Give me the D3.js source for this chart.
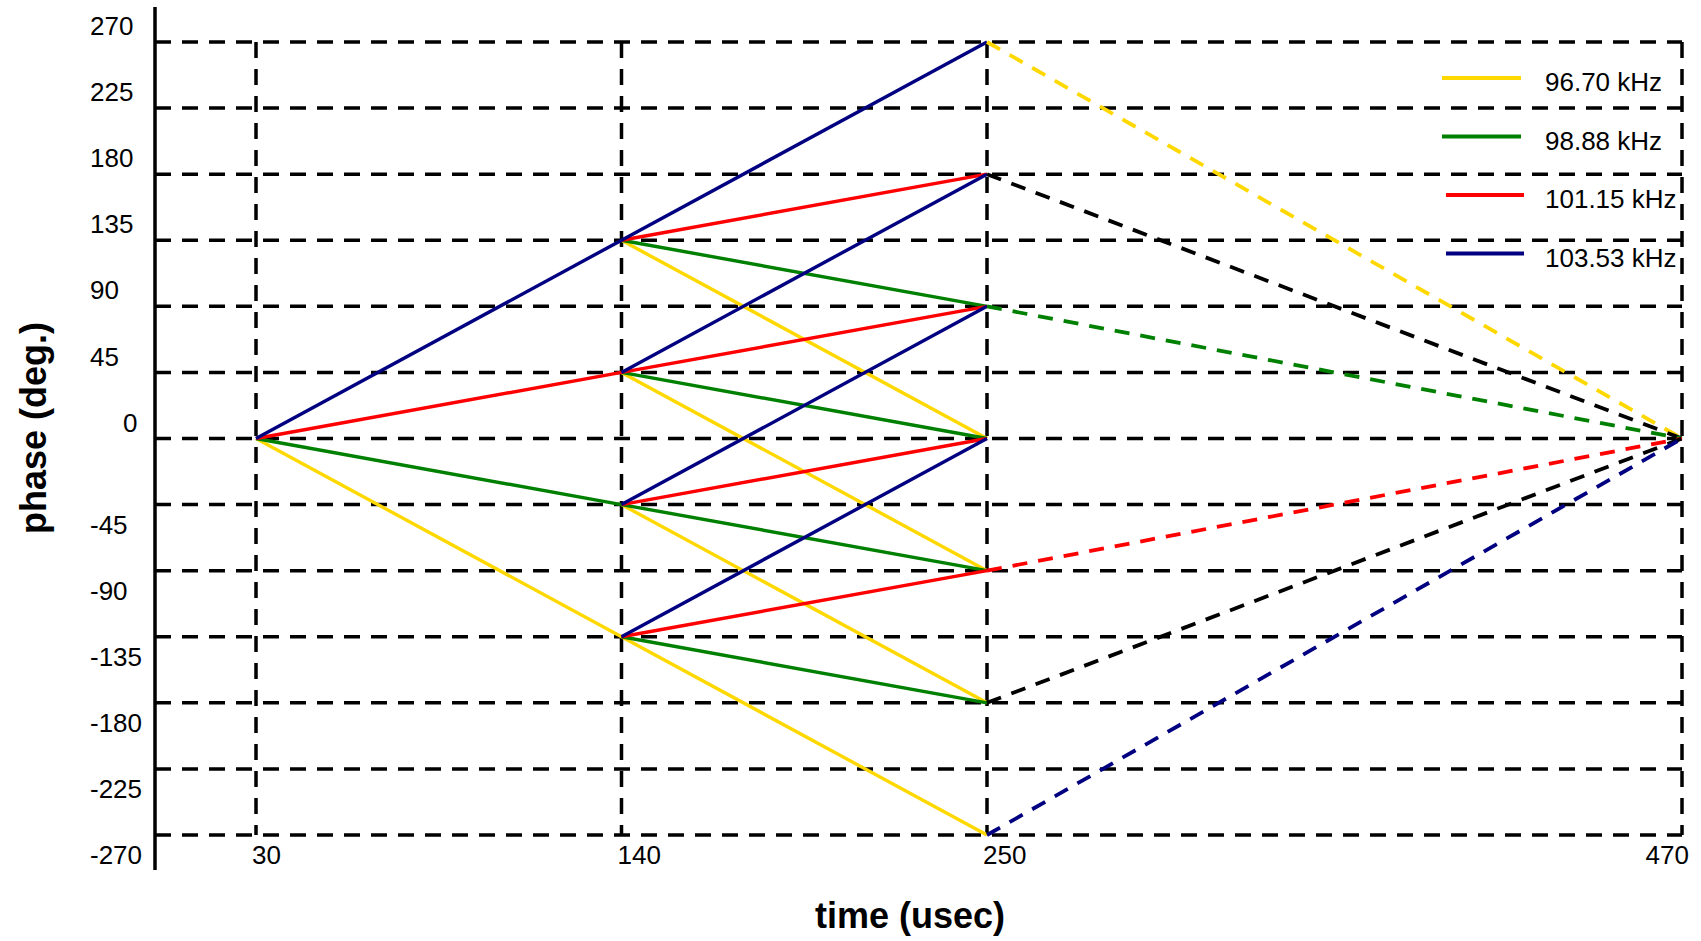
<!DOCTYPE html>
<html>
<head>
<meta charset="utf-8">
<script src="https://cdn.jsdelivr.net/npm/d3@7"></script>
<style>
  body { margin: 0; background: #fff; }
  text { font-family: "Liberation Sans", Arial, sans-serif; fill: #000; }
</style>
</head>
<body>
<svg id="chart" width="1701" height="941"></svg>
<script>
// time stops (usec) and phase ticks (deg.)
const times = [30, 140, 250, 470];
const phaseTicks = [270, 225, 180, 135, 90, 45, 0, -45, -90, -135, -180, -225, -270];

const legendLabels = ["96.70 kHz", "98.88 kHz", "101.15 kHz", "103.53 kHz"];
const seriesColors = ["#ffd800", "#008000", "#ff0000", "#000080"];

// solid phase paths for each frequency, as [time, phase] points
const yellowPaths = [
  [[30, 0], [140, -135], [250, -270]],
  [[140, 135], [250, 0]],
  [[140, 45], [250, -90]],
  [[140, -45], [250, -180]]
];
const greenPaths = [
  [[30, 0], [140, -45], [250, -90]],
  [[140, 135], [250, 90]],
  [[140, 45], [250, 0]],
  [[140, -135], [250, -180]]
];
const redPaths = [
  [[30, 0], [140, 45], [250, 90]],
  [[140, 135], [250, 180]],
  [[140, -45], [250, 0]],
  [[140, -135], [250, -90]]
];
const bluePaths = [
  [[30, 0], [140, 135], [250, 270]],
  [[140, 45], [250, 180]],
  [[140, -45], [250, 90]],
  [[140, -135], [250, 0]]
];

// dashed returns from phase at 250 usec back to 0 at 470 usec
const returnPhases = [270, 180, 90, -90, -180, -270];
const returnColors = ["#ffd800", "#000", "#008000", "#ff0000", "#000", "#000080"];

const svg = d3.select("#chart");

const x = d3.scaleLinear().domain([30, 250, 470]).range([256, 987, 1682]);
const y = d3.scaleLinear().domain([-270, 270]).range([835, 42]);
const axisX = 155;

const line = d3.line().x(d => x(d[0])).y(d => y(d[1]));

// horizontal grid
svg.append("g")
  .selectAll("line")
  .data(phaseTicks)
  .join("line")
  .attr("x1", axisX)
  .attr("x2", x(470))
  .attr("y1", d => y(d))
  .attr("y2", d => y(d))
  .attr("stroke", "#000")
  .attr("stroke-width", 3.5)
  .attr("stroke-dasharray", "16,11");

// vertical grid
svg.append("g")
  .selectAll("line")
  .data(times)
  .join("line")
  .attr("x1", d => x(d))
  .attr("x2", d => x(d))
  .attr("y1", y(270))
  .attr("y2", y(-270))
  .attr("stroke", "#000")
  .attr("stroke-width", 3.5)
  .attr("stroke-dasharray", "16,11");

// y axis line
svg.append("line")
  .attr("x1", axisX).attr("x2", axisX)
  .attr("y1", 7).attr("y2", 870)
  .attr("stroke", "#000")
  .attr("stroke-width", 3.5);

// y tick labels: positive ones sit above the line, negative ones below
svg.append("g")
  .selectAll("text")
  .data(phaseTicks)
  .join("text")
  .attr("x", d => d === 0 ? 123 : 90)
  .attr("y", d => y(d) + (d >= 0 ? -16 : 20))
  .attr("dy", "0.35em")
  .attr("font-size", 26)
  .text(d => d);

// x tick labels
svg.append("g")
  .selectAll("text")
  .data(times)
  .join("text")
  .attr("x", (d, i) => i === times.length - 1 ? x(d) + 7 : x(d) - 4)
  .attr("y", y(-270) + 20)
  .attr("dy", "0.35em")
  .attr("text-anchor", (d, i) => i === times.length - 1 ? "end" : "start")
  .attr("font-size", 26)
  .text(d => d);

// solid series paths
const allPaths = [yellowPaths, greenPaths, redPaths, bluePaths];
allPaths.forEach((paths, i) => {
  svg.append("g")
    .selectAll("path")
    .data(paths)
    .join("path")
    .attr("d", line)
    .attr("fill", "none")
    .attr("stroke", seriesColors[i])
    .attr("stroke-width", 3.4);
});

// dashed return lines
svg.append("g")
  .selectAll("path")
  .data(returnPhases)
  .join("path")
  .attr("d", d => line([[250, d], [470, 0]]))
  .attr("fill", "none")
  .attr("stroke", (d, i) => returnColors[i])
  .attr("stroke-width", 3.8)
  .attr("stroke-dasharray", "15,11");

// legend
const legend = svg.append("g")
  .selectAll("g")
  .data(legendLabels)
  .join("g")
  .attr("transform", (d, i) => "translate(0," + (78 + i * 58.5) + ")");

legend.append("line")
  .attr("x1", (d, i) => i < 2 ? 1442 : 1446)
  .attr("x2", (d, i) => i < 2 ? 1521 : 1524)
  .attr("stroke", (d, i) => seriesColors[i])
  .attr("stroke-width", 4);

legend.append("text")
  .attr("x", 1545)
  .attr("y", 4)
  .attr("dy", "0.35em")
  .attr("font-size", 26)
  .text(d => d);

// axis titles
svg.append("text")
  .attr("x", 910)
  .attr("y", 928)
  .attr("text-anchor", "middle")
  .attr("font-size", 36)
  .attr("font-weight", "bold")
  .text("time (usec)");

svg.append("text")
  .attr("transform", "translate(46,428) rotate(-90)")
  .attr("text-anchor", "middle")
  .attr("font-size", 36)
  .attr("font-weight", "bold")
  .text("phase (deg.)");
</script>
</body>
</html>
